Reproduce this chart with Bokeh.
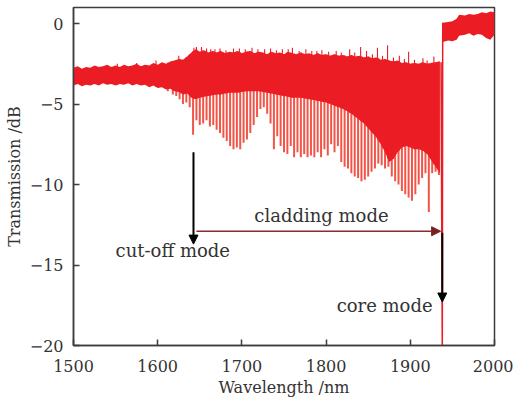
import numpy as np
from bokeh.plotting import figure
from bokeh.models import Range1d, Arrow, NormalHead, Label
from bokeh.embed import file_html
from bokeh.resources import INLINE

# ---------------- data ----------------
# dense noisy transmission band (nm, dB), 5 nm steps
band_wl = [1500, 1505, 1510, 1515, 1520, 1525, 1530, 1535, 1540, 1545,
           1550, 1555, 1560, 1565, 1570, 1575, 1580, 1585, 1590, 1595,
           1600, 1605, 1610, 1615, 1620, 1625, 1630, 1635, 1640, 1645,
           1650, 1655, 1660, 1665, 1670, 1675, 1680, 1685, 1690, 1695,
           1700, 1705, 1710, 1715, 1720, 1725, 1730, 1735, 1740, 1745,
           1750, 1755, 1760, 1765, 1770, 1775, 1780, 1785, 1790, 1795,
           1800, 1805, 1810, 1815, 1820, 1825, 1830, 1835, 1840, 1845,
           1850, 1855, 1860, 1865, 1870, 1875, 1880, 1885, 1890, 1895,
           1900, 1905, 1910, 1915, 1920, 1925, 1930, 1935]
band_top = [-2.75, -2.65, -2.8, -2.7, -2.75, -2.6, -2.7, -2.65, -2.55, -2.7,
            -2.6, -2.7, -2.55, -2.65, -2.6, -2.5, -2.65, -2.55, -2.6, -2.45,
            -2.55, -2.4, -2.5, -2.35, -2.3, -2.2, -2.25, -2.05, -1.8, -1.6,
            -1.75, -1.65, -1.8, -1.7, -1.8, -1.7, -1.85, -1.75, -1.8, -1.7,
            -1.85, -1.75, -1.7, -1.85, -1.75, -1.8, -1.9, -1.75, -1.85, -1.8,
            -1.9, -1.75, -1.85, -1.9, -1.8, -1.9, -1.85, -1.95, -1.85, -1.95,
            -1.9, -2.0, -1.9, -2.0, -1.95, -2.05, -1.95, -2.05, -2.0, -2.1,
            -2.05, -2.15, -2.1, -2.25, -2.2, -2.3, -2.35, -2.3, -2.45, -2.4,
            -2.5, -2.45, -2.5, -2.4, -2.5, -2.45, -2.4, -2.35]
band_bot = [-3.85, -3.75, -3.9, -3.8, -3.85, -3.75, -3.85, -3.7, -3.8, -3.75,
            -3.85, -3.75, -3.8, -3.7, -3.85, -3.75, -3.85, -3.8, -3.95, -3.85,
            -4.0, -3.95, -4.1, -4.05, -4.2, -4.25, -4.4, -4.35, -4.6, -4.7,
            -4.6, -4.55, -4.5, -4.45, -4.4, -4.4, -4.35, -4.3, -4.3, -4.3,
            -4.25, -4.2, -4.2, -4.2, -4.2, -4.25, -4.3, -4.35, -4.4, -4.45,
            -4.5, -4.55, -4.6, -4.6, -4.6, -4.65, -4.7, -4.75, -4.8, -4.85,
            -4.9, -5.0, -5.1, -5.2, -5.3, -5.45, -5.6, -5.8, -6.0, -6.2,
            -6.5, -6.8, -7.1, -7.5, -8.0, -8.6, -8.4, -8.0, -7.7, -7.6,
            -7.7, -7.8, -7.8, -7.9, -8.1, -8.5, -8.9, -9.3]

# band after the core-mode resonance
right_wl = [1938.5, 1945, 1950, 1955, 1958, 1965, 1970, 1975, 1980, 1985, 1990, 1995, 2000]
right_top = [0.05, 0.1, 0.15, 0.3, 0.55, 0.5, 0.6, 0.55, 0.6, 0.7, 0.65, 0.75, 0.7]
right_bot = [-1.15, -1.05, -1.1, -1.0, -0.75, -0.7, -0.6, -0.75, -0.65, -0.7, -0.9, -1.0, -0.7]

# cladding-mode resonance dips (nm, dB)
dip_wl = [1612, 1618, 1622, 1626, 1630, 1634, 1638,
          1642, 1646, 1650, 1654, 1658, 1662, 1666, 1670, 1674, 1678,
          1682, 1686, 1690, 1694, 1698, 1702, 1706, 1710, 1714, 1718,
          1722, 1726, 1730, 1734, 1738, 1742, 1746, 1750, 1754, 1758,
          1762, 1766, 1770, 1774, 1778, 1782, 1786, 1790, 1794, 1798,
          1802, 1806, 1810, 1814, 1818, 1822, 1826, 1830, 1834, 1838,
          1842, 1846, 1850, 1854, 1858, 1862, 1866, 1870, 1874, 1878,
          1882, 1886, 1890, 1894, 1898, 1902, 1906, 1910, 1914, 1918,
          1922, 1926, 1930, 1934]
dip_depth = [-4.2, -4.4, -4.5, -4.7, -5.0, -4.9, -5.2,
             -6.9, -6.0, -6.3, -6.2, -6.0, -6.4, -6.3, -6.6, -6.8, -7.1,
             -7.3, -7.6, -7.8, -7.7, -7.8, -7.4, -7.2, -6.8, -6.3, -5.8,
             -5.3, -5.2, -5.6, -6.2, -7.8, -7.0, -7.6, -8.0, -8.1, -7.6,
             -8.3, -8.0, -8.3, -8.1, -8.3, -8.2, -8.3, -8.0, -8.3, -7.8,
             -8.2, -7.5, -8.0, -7.6, -8.6, -8.9, -9.0, -9.3, -9.5, -9.6,
             -9.8, -9.7, -9.5, -9.2, -9.0, -8.7, -8.8, -9.0, -8.9, -9.5,
             -9.8, -10.0, -10.4, -10.6, -10.8, -11.0, -10.6, -10.0, -9.6, -9.3,
             -11.7, -9.3, -9.2, -9.4]

# upward noise spikes
spike_wl = [1552, 1575, 1598, 1625, 1643, 1646, 1652, 1658, 1663, 1668, 1674, 1681,
            1690, 1697, 1704, 1712, 1719, 1727, 1734, 1741, 1748, 1755, 1760, 1768,
            1776, 1783, 1789, 1795, 1803, 1812, 1818, 1828, 1834, 1841, 1848, 1855,
            1861, 1867, 1873, 1880, 1887, 1893, 1898, 1905, 1915, 1920, 1928]
spike_top = [-2.5, -2.45, -2.3, -2.0, -1.5, -1.45, -1.45, -1.55, -1.6, -1.6, -1.55, -1.65,
             -1.55, -1.55, -1.6, -1.5, -1.6, -1.6, -1.55, -1.65, -1.6, -1.6, -1.5, -1.7,
             -1.6, -1.7, -1.7, -1.65, -1.75, -1.7, -1.8, -1.6, -1.8, -1.45, -1.7, -1.9,
             -1.5, -2.0, -1.35, -2.1, -2.0, -2.2, -1.75, -2.25, -2.15, -2.3, -2.05]

# core-mode resonance
core_wl = [1936.5, 1938.0, 1938.5]
core_db = [-2.4, -20.5, 0.05]

x_ticks = [1500, 1600, 1700, 1800, 1900, 2000]
y_ticks = [0, -5, -10, -15, -20]
y_tick_labels = ["0", "\u22125", "\u221210", "\u221215", "\u221220"]

# annotation anchors (nm, dB)
cutoff_arrow = (1642.5, -8.0, -13.7)
clad_arrow = (1646, 1936, -12.9)
core_arrow = (1938.0, -13.0, -17.3)

# ---------------- figure ----------------
RED = "#ec1c24"
DIP = "#f25548"
TXT = "#333333"
FONT = "DejaVu Serif"

p = figure(width=513, height=401, x_range=Range1d(1500, 2000), y_range=Range1d(-20, 1.0),
           output_backend="svg", toolbar_location=None,
           min_border_left=73, min_border_right=19, min_border_top=7, min_border_bottom=56)
p.xgrid.visible = False
p.ygrid.visible = False
p.outline_line_color = "#3c3c3c"
p.outline_line_width = 1.5
p.background_fill_color = "white"

# dips under the band
dip_y0 = np.interp(dip_wl, band_wl, band_top)
p.segment(x0=dip_wl, y0=dip_y0, x1=dip_wl, y1=dip_depth, line_color=DIP, line_width=2.0)
spike_y0 = np.interp(spike_wl, band_wl, band_bot)
p.segment(x0=spike_wl, y0=spike_y0, x1=spike_wl, y1=spike_top, line_color=RED, line_width=1.1)

p.varea(x=band_wl, y1=band_bot, y2=band_top, fill_color=RED)
p.varea(x=right_wl, y1=right_bot, y2=right_top, fill_color=RED)
p.line(x=core_wl, y=core_db, line_color=RED, line_width=1.5)

# annotations
p.add_layout(Arrow(end=NormalHead(size=9, fill_color="black", line_color="black"),
                   x_start=cutoff_arrow[0], y_start=cutoff_arrow[1],
                   x_end=cutoff_arrow[0], y_end=cutoff_arrow[2],
                   line_color="black", line_width=2))
p.add_layout(Arrow(end=NormalHead(size=9, fill_color="#7a2020", line_color="#7a2020"),
                   x_start=clad_arrow[0], y_start=clad_arrow[2],
                   x_end=clad_arrow[1], y_end=clad_arrow[2],
                   line_color="#8b2a2a", line_width=1.5))
p.add_layout(Arrow(end=NormalHead(size=9, fill_color="black", line_color="black"),
                   x_start=core_arrow[0], y_start=core_arrow[1],
                   x_end=core_arrow[0], y_end=core_arrow[2],
                   line_color="black", line_width=2))

for (x, y, t, al) in [(1794.5, -11.9, "cladding mode", "center"),
                      (1550, -14.1, "cut-off mode", "left"),
                      (1926.5, -17.5, "core mode", "right")]:
    p.add_layout(Label(x=x, y=y, text=t, text_align=al, text_baseline="middle",
                       text_font=FONT, text_font_size="18px", text_color=TXT))

# axes
p.xaxis.ticker = x_ticks
p.yaxis.ticker = y_ticks
p.yaxis.major_label_overrides = dict(zip(y_ticks, y_tick_labels))
for ax in (p.xaxis[0], p.yaxis[0]):
    ax.major_tick_in = 6
    ax.major_tick_out = 0
    ax.minor_tick_in = 0
    ax.minor_tick_out = 0
    ax.axis_line_color = "#3c3c3c"
    ax.axis_line_width = 1.5
    ax.major_tick_line_color = "#3c3c3c"
    ax.major_tick_line_width = 1.5
    ax.major_label_text_font = FONT
    ax.major_label_text_font_size = "16px"
    ax.major_label_text_color = TXT
    ax.axis_label_text_font = FONT
    ax.axis_label_text_font_size = "16px"
    ax.axis_label_text_font_style = "normal"
    ax.axis_label_text_color = TXT
p.xaxis.axis_label = "Wavelength /nm"
p.yaxis.axis_label = "Transmission /dB"
p.xaxis.major_label_standoff = 14
p.xaxis.axis_label_standoff = 3
p.yaxis.major_label_standoff = 10
p.yaxis.axis_label_standoff = 3

open("out.html", "w").write(file_html(p, INLINE))
